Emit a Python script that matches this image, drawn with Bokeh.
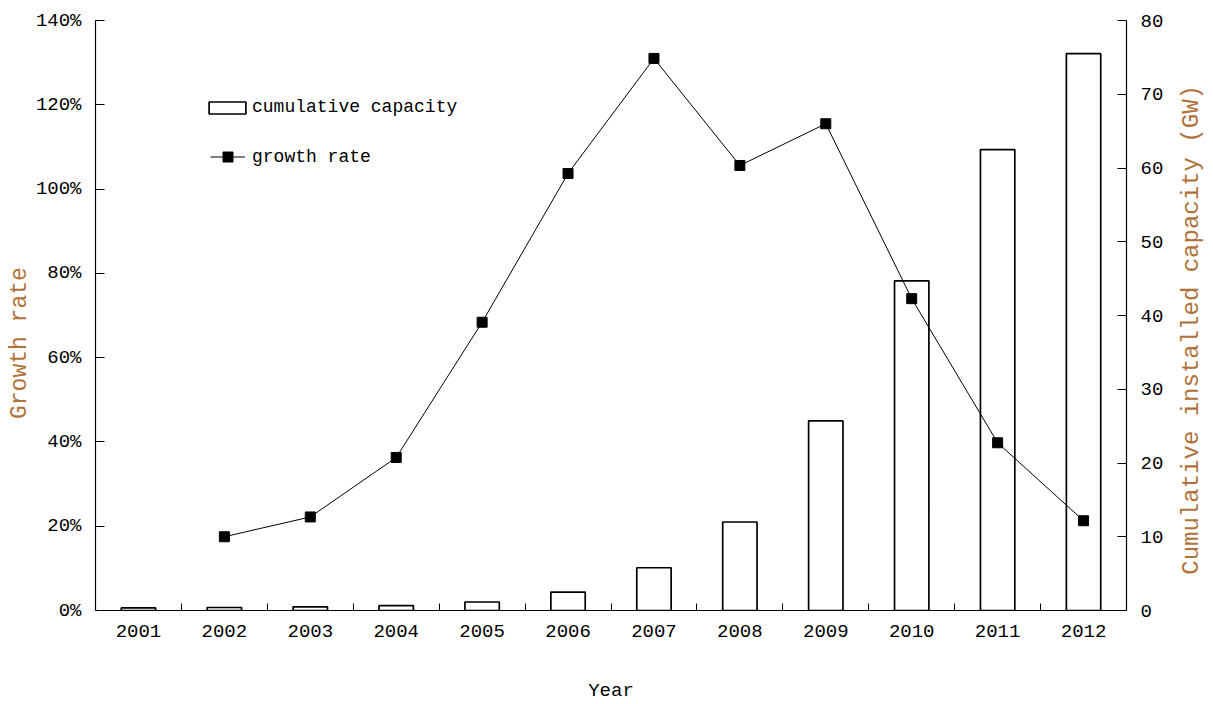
from bokeh.plotting import figure
from bokeh.layouts import row
from bokeh.models import (Range1d, LinearAxis, FixedTicker, PrintfTickFormatter,
                          Legend, LegendItem)
from bokeh.embed import file_html
from bokeh.resources import INLINE

# Cumulative installed capacity (GW) and its year-on-year growth rate (%)
years = [2001, 2002, 2003, 2004, 2005, 2006, 2007, 2008, 2009, 2010, 2011, 2012]
capacity_gw = [0.35, 0.41, 0.50, 0.65, 1.15, 2.5, 5.8, 12.0, 25.7, 44.7, 62.5, 75.5]
growth_years = [2002, 2003, 2004, 2005, 2006, 2007, 2008, 2009, 2010, 2011, 2012]
growth_pct = [17.5, 22.2, 36.3, 68.4, 103.7, 131.0, 105.6, 115.5, 74.0, 39.8, 21.3]

left_ticks = [0, 20, 40, 60, 80, 100, 120, 140]
right_ticks = [0, 10, 20, 30, 40, 50, 60, 70, 80]

FONT = "Liberation Mono"
TITLE_COLOR = "#b0723a"
NBSP = "\u00a0"

RIGHT_W = 39     # strip holding the capacity title
MAIN_W = 1213 - RIGHT_W
TOP, BOTTOM = 20, 94


def title_strip(text, width, font_size, lift):
    """Narrow empty figure whose left-axis label serves as a vertical title
    reading upwards; `lift` trailing blanks move the words down a little."""
    s = figure(width=width, height=704, output_backend="svg",
               toolbar_location=None, x_range=Range1d(0, 1),
               y_range=Range1d(0, 1), x_axis_location=None,
               min_border_left=0, min_border_right=0,
               min_border_top=TOP, min_border_bottom=BOTTOM)
    s.outline_line_color = None
    s.xgrid.visible = False
    s.ygrid.visible = False
    ax = s.yaxis[0]
    ax.ticker = FixedTicker(ticks=[])
    ax.axis_line_color = None
    ax.major_tick_line_color = None
    ax.minor_tick_line_color = None
    ax.major_label_text_font_size = "0px"
    ax.axis_label = text + NBSP * lift
    ax.axis_label_standoff = 0
    ax.axis_label_text_font = FONT
    ax.axis_label_text_font_style = "normal"
    ax.axis_label_text_font_size = font_size
    ax.axis_label_text_color = TITLE_COLOR
    return s


p = figure(width=MAIN_W, height=704, output_backend="svg", toolbar_location=None,
           x_range=Range1d(2000.5, 2012.5), y_range=Range1d(0, 140),
           min_border_left=95, min_border_right=MAIN_W - 1126,
           min_border_top=TOP, min_border_bottom=BOTTOM)
p.outline_line_color = None
p.xgrid.visible = False
p.ygrid.visible = False
p.background_fill_color = "white"
p.border_fill_color = "white"

p.extra_y_ranges = {"cap": Range1d(0, 80)}

# Bottom axis: year labels at the centres, small inward ticks between years
xa = p.xaxis[0]
xa.ticker = FixedTicker(ticks=years,
                        minor_ticks=[y + 0.5 for y in years[:-1]])
xa.major_tick_in = 0
xa.major_tick_out = 0
xa.minor_tick_in = 7
xa.minor_tick_out = 0
xa.axis_label = "Year"
xa.axis_label_standoff = 40
xa.major_label_standoff = 14

# Left axis: growth rate (trailing blanks push the title a bit lower)
ya = p.yaxis[0]
ya.ticker = FixedTicker(ticks=left_ticks)
ya.formatter = PrintfTickFormatter(format="%d%%")
ya.minor_tick_line_color = None
ya.major_tick_in = 9
ya.major_tick_out = 0
ya.major_label_standoff = 14
ya.axis_label = "Growth rate" + NBSP * 4
ya.axis_label_standoff = 0

# Right axis: cumulative capacity
ra = LinearAxis(y_range_name="cap", ticker=FixedTicker(ticks=right_ticks))
ra.minor_tick_line_color = None
ra.major_tick_in = 9
ra.major_tick_out = 0
ra.major_label_standoff = 14
p.add_layout(ra, "right")

for ax in (xa, ya, ra):
    ax.axis_line_color = "black"
    ax.axis_line_width = 1.2
    ax.major_tick_line_color = "black"
    ax.major_label_text_font = FONT
    ax.major_label_text_font_size = "19px"
    ax.major_label_text_color = "black"
    ax.axis_label_text_font = FONT
    ax.axis_label_text_font_style = "normal"
xa.minor_tick_line_color = "black"
xa.axis_label_text_font_size = "19px"
xa.axis_label_text_color = "black"
ya.axis_label_text_font_size = "23px"
ya.axis_label_text_color = TITLE_COLOR

bars = p.vbar(x=years, top=capacity_gw, width=0.4, bottom=0, y_range_name="cap",
              fill_color="white", line_color="black", line_width=1.7)
line = p.line(growth_years, growth_pct, line_color="black", line_width=1)
pts = p.scatter(growth_years, growth_pct, marker="square", size=10,
                fill_color="black", line_color="black")

leg_bar = Legend(items=[LegendItem(label="cumulative capacity", renderers=[bars])],
                 location=(109, 493), glyph_width=46, glyph_height=15,
                 label_height=15, label_standoff=2)
leg_line = Legend(items=[LegendItem(label="growth rate", renderers=[line, pts])],
                  location=(115, 441), glyph_width=35, glyph_height=25,
                  label_height=25, label_standoff=7)
for lg in (leg_bar, leg_line):
    lg.border_line_color = None
    lg.background_fill_alpha = 0
    lg.padding = 0
    lg.margin = 0
    lg.label_text_font = FONT
    lg.label_text_font_size = "18px"
    lg.label_text_color = "black"
    p.add_layout(lg)

right_strip = title_strip("Cumulative installed capacity (GW)", RIGHT_W,
                          "24px", 2)

layout = row(p, right_strip, spacing=0)

open("out.html", "w").write(file_html(layout, INLINE))
